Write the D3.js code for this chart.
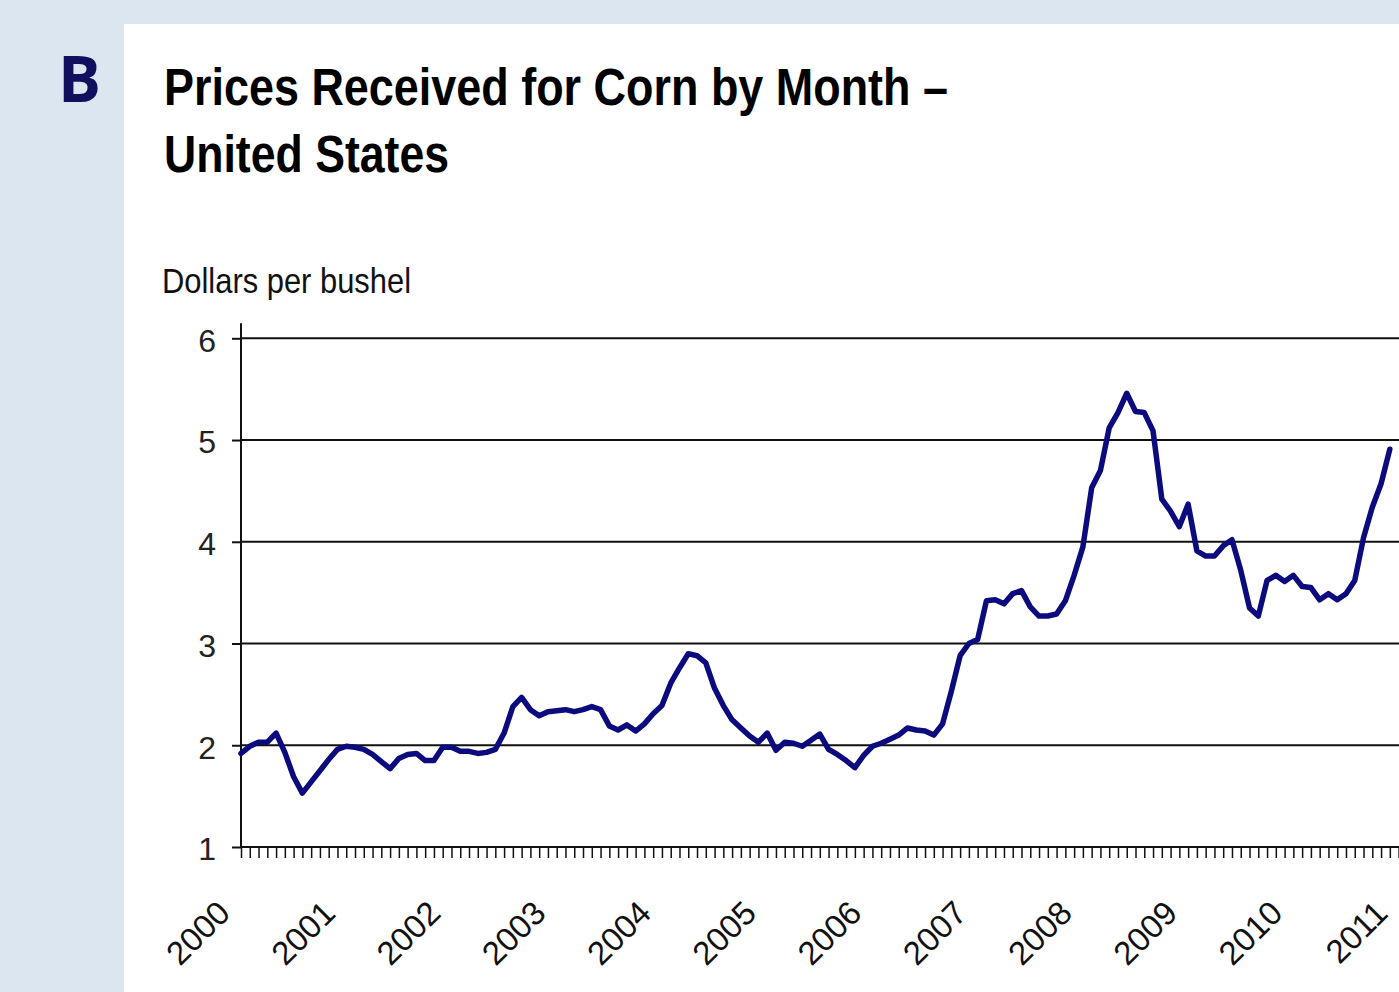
<!DOCTYPE html>
<html>
<head>
<meta charset="utf-8">
<script src="https://cdn.jsdelivr.net/npm/d3@7"></script>
<style>
  html, body { margin: 0; padding: 0; background: #dce6f1; }
  svg { display: block; }
</style>
</head>
<body>
<div id="chart"></div>
<script>
const WIDTH = 1399;
const HEIGHT = 992;
const FONT = "'Liberation Sans', Arial, sans-serif";
const LINE_COLOR = "#0b0b7e";

const TITLE_LINES = ["Prices Received for Corn by Month \u2013", "United States"];
const UNIT_LABEL = "Dollars per bushel";
const PANEL_LETTER = "B";

// monthly prices, Jan..Dec, one row per year
const YEARS = [2000, 2001, 2002, 2003, 2004, 2005, 2006, 2007, 2008, 2009, 2010];
const PRICES_BY_YEAR = [
  [1.92, 1.99, 2.03, 2.03, 2.12, 1.93, 1.69, 1.53, 1.64, 1.75, 1.86, 1.96],
  [1.99, 1.98, 1.96, 1.91, 1.84, 1.77, 1.87, 1.91, 1.92, 1.85, 1.85, 1.98],
  [1.98, 1.94, 1.94, 1.92, 1.93, 1.96, 2.12, 2.38, 2.47, 2.35, 2.29, 2.33],
  [2.34, 2.35, 2.33, 2.35, 2.38, 2.35, 2.19, 2.15, 2.20, 2.14, 2.21, 2.31],
  [2.39, 2.61, 2.76, 2.90, 2.88, 2.81, 2.56, 2.39, 2.25, 2.17, 2.09, 2.03],
  [2.12, 1.95, 2.03, 2.02, 1.99, 2.05, 2.11, 1.96, 1.91, 1.85, 1.78, 1.90],
  [1.99, 2.02, 2.06, 2.10, 2.17, 2.15, 2.14, 2.10, 2.21, 2.53, 2.88, 3.00],
  [3.04, 3.42, 3.43, 3.39, 3.49, 3.52, 3.36, 3.27, 3.27, 3.29, 3.42, 3.67],
  [3.95, 4.53, 4.70, 5.12, 5.27, 5.46, 5.28, 5.27, 5.09, 4.42, 4.30, 4.15],
  [4.37, 3.91, 3.86, 3.86, 3.96, 4.02, 3.72, 3.35, 3.27, 3.62, 3.67, 3.61],
  [3.67, 3.56, 3.55, 3.43, 3.49, 3.43, 3.49, 3.62, 4.04, 4.34, 4.57, 4.91]
];
const Y_TICKS = [1, 2, 3, 4, 5, 6];
const X_LABELS = ["2000", "2001", "2002", "2003", "2004", "2005", "2006", "2007", "2008", "2009", "2010", "2011"];

// flatten to [fractional year, price]
const series = [];
YEARS.forEach((yr, i) => {
  PRICES_BY_YEAR[i].forEach((p, m) => series.push([yr + m / 12, p]));
});

const svg = d3.select("#chart")
  .append("svg")
  .attr("width", WIDTH)
  .attr("height", HEIGHT);

// backgrounds
svg.append("rect")
  .attr("width", WIDTH).attr("height", HEIGHT)
  .attr("fill", "#dce6f1");
svg.append("rect")
  .attr("x", 124).attr("y", 24)
  .attr("width", WIDTH - 124).attr("height", HEIGHT - 24)
  .attr("fill", "#ffffff");

// panel letter
svg.append("text")
  .attr("x", 58).attr("y", 102)
  .attr("font-family", "'Open Sans', sans-serif")
  .attr("font-weight", 700)
  .attr("font-size", 64)
  .attr("fill", "#10105e")
  .text(PANEL_LETTER);

// title
svg.selectAll(".title")
  .data(TITLE_LINES)
  .enter()
  .append("text")
  .attr("class", "title")
  .attr("x", 164)
  .attr("y", (d, i) => 105 + i * 67)
  .attr("font-family", FONT)
  .attr("font-weight", 700)
  .attr("font-size", 51)
  .attr("fill", "#000")
  .attr("textLength", (d, i) => i === 0 ? 784 : 285)
  .attr("lengthAdjust", "spacingAndGlyphs")
  .text(d => d);

svg.append("text")
  .attr("x", 162).attr("y", 293)
  .attr("font-family", FONT)
  .attr("font-size", 35)
  .attr("fill", "#111")
  .attr("textLength", 249)
  .attr("lengthAdjust", "spacingAndGlyphs")
  .text(UNIT_LABEL);

// scales
const x = d3.scaleLinear().domain([2000, 2011]).range([241, 1398.6]);
const y = d3.scaleLinear().domain([1, 6]).range([847, 338.3]);

// gridlines
svg.append("g")
  .selectAll("line")
  .data(Y_TICKS.slice(1))
  .enter()
  .append("line")
  .attr("x1", x(2000)).attr("x2", WIDTH)
  .attr("y1", d => y(d)).attr("y2", d => y(d))
  .attr("stroke", "#111")
  .attr("stroke-width", 2);

// y axis
const yAxis = d3.axisLeft(y)
  .tickValues(Y_TICKS)
  .tickFormat(d3.format("d"))
  .tickSize(9)
  .tickSizeOuter(0)
  .tickPadding(16);
const gy = svg.append("g")
  .attr("transform", "translate(" + x(2000) + ",0)")
  .call(yAxis);
gy.select(".domain").remove();
gy.selectAll(".tick line").attr("stroke", "#111").attr("stroke-width", 2);
gy.selectAll(".tick text")
  .attr("font-family", FONT)
  .attr("font-size", 32)
  .attr("fill", "#222")
  .attr("dy", "0.4em");
gy.append("line")
  .attr("x1", 0).attr("x2", 0)
  .attr("y1", y.range()[1] - 15).attr("y2", y.range()[0])
  .attr("stroke", "#111")
  .attr("stroke-width", 2);

// x axis with monthly ticks
const monthTicks = d3.range(0, 133).map(i => 2000 + i / 12);
const xAxis = d3.axisBottom(x)
  .tickValues(monthTicks)
  .tickSize(11)
  .tickSizeOuter(0)
  .tickFormat("");
const gx = svg.append("g")
  .attr("transform", "translate(0," + y(1) + ")")
  .call(xAxis);
gx.select(".domain").attr("stroke", "#111").attr("stroke-width", 2)
  .attr("d", "M" + x(2000) + ",0H" + WIDTH);
gx.selectAll(".tick line").attr("stroke", "#111").attr("stroke-width", 1.5);

// year labels
svg.append("g")
  .selectAll("text")
  .data(X_LABELS)
  .enter()
  .append("text")
  .attr("transform", d => "translate(" + (x(+d) - 9) + "," + (y(1) + 68) + ") rotate(-45)")
  .attr("text-anchor", "end")
  .attr("font-family", FONT)
  .attr("font-size", 33)
  .attr("fill", "#111")
  .text(d => d);

// price line
const line = d3.line()
  .x(d => x(d[0]))
  .y(d => y(d[1]));
svg.append("path")
  .datum(series)
  .attr("d", line)
  .attr("fill", "none")
  .attr("stroke", LINE_COLOR)
  .attr("stroke-width", 5.5)
  .attr("stroke-linejoin", "round")
  .attr("stroke-linecap", "round");
</script>
</body>
</html>
